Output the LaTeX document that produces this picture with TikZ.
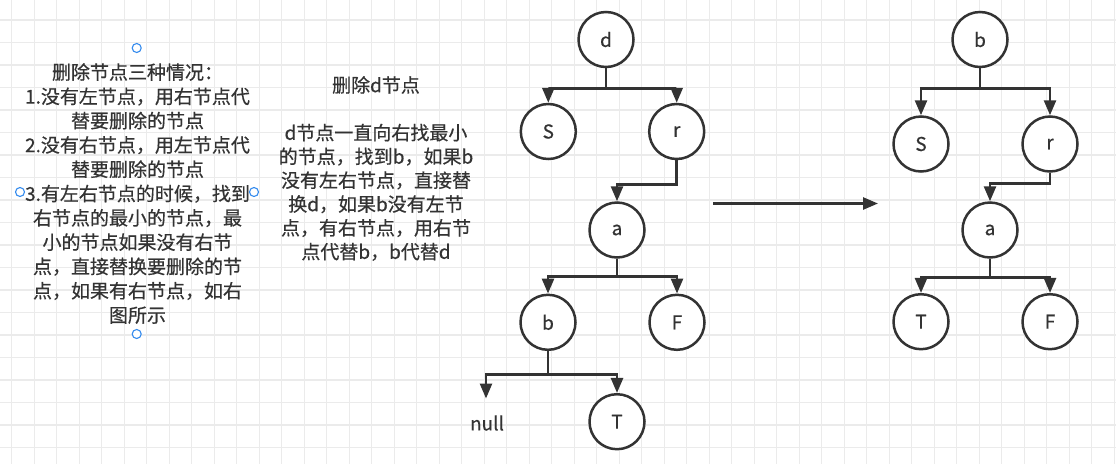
\documentclass[tikz,border=0pt]{standalone}
\usepackage{fontspec}
\setmainfont[FakeBold=0.5]{Noto Sans CJK SC}
\usetikzlibrary{arrows.meta}
\definecolor{ink}{HTML}{333333}
\definecolor{gridc}{HTML}{EBEBEB}
\definecolor{handle}{RGB}{52,139,238}
\begin{document}
\begin{tikzpicture}[x=1pt,y=-1pt,
  tnode/.style={circle,draw=ink,line width=2.5pt,fill=white,minimum size=55pt,inner sep=0pt,text=ink,font=\fontsize{19}{22}\selectfont},
  conn/.style={draw=ink,line width=2.6pt,-{Triangle[length=15pt,width=12pt]}},
  gridline/.style={draw=gridc,line width=1.3pt},
  hdl/.style={circle,draw=handle,line width=1.1pt,fill=white,minimum size=9pt,inner sep=0pt},
  txt/.style={text=ink,align=center,inner sep=0pt}]
\useasboundingbox (0,0) rectangle (1116,464);
\fill[white] (0,0) rectangle (1116,464);
\foreach \i in {0,...,49} \draw[gridline] ({11.7+22.5*\i},0) -- ({11.7+22.5*\i},464);
\foreach \j in {0,...,20} \draw[gridline] (0,{20+22.5*\j}) -- (1116,{20+22.5*\j});

% left text
\node[txt,font=\fontsize{19}{24.3}\selectfont] (lefttext) at (137.5,193.5) {删除节点三种情况：\\1.没有左节点，用右节点代\\替要删除的节点\\2.没有右节点，用左节点代\\替要删除的节点\\3.有左右节点的时候，找到\\右节点的最小的节点，最\\小的节点如果没有右节\\点，直接替换要删除的节\\点，如果有右节点，如右\\图所示};
\node[hdl] (h1) at (136.7,48) {};
\node[hdl] (h2) at (136.7,334) {};
\node[hdl] (h3) at (20,192) {};
\node[hdl] (h4) at (254,192) {};

% middle text
\node[txt,font=\fontsize{19}{23.8}\selectfont] (midtext) at (376,168.5) {删除d节点\\~\\d节点一直向右找最小\\的节点，找到b，如果b\\没有左右节点，直接替\\换d，如果b没有左节\\点，有右节点，用右节\\点代替b，b代替d};

% left tree
\node[tnode] (d) at (606,39.5) {d};
\node[tnode] (S) at (548.3,131.5) {S};
\node[tnode] (r) at (676.7,131.5) {r};
\node[tnode] (a) at (617,230) {a};
\node[tnode] (b) at (548,322.3) {b};
\node[tnode] (F) at (677,322.3) {F};
\node[tnode] (T) at (617,421.7) {T};
\node[txt,font=\fontsize{19}{22}\selectfont] (null) at (487,423) {null};
\coordinate (nulltip) at (486,398.5);

\draw[conn] (d.south) -- ++(0,20.5) -| (S.north);
\draw[conn] (d.south) -- ++(0,20.5) -| (r.north);
\draw[conn] (r.south) -- ++(0,24) -| (a.north);
\draw[conn] (a.south) -- ++(0,18) -| (b.north);
\draw[conn] (a.south) -- ++(0,18) -| (F.north);
\draw[conn] (b.south) -- ++(0,23.5) -| (nulltip);
\draw[conn] (b.south) -- ++(0,23.5) -| (T.north);

% big arrow
\coordinate (arrA) at (713,203.5);
\coordinate (arrB) at (878,203.5);
\draw[conn] (arrA) -- (arrB);

% right tree
\node[tnode] (b2) at (980,39.5) {b};
\node[tnode] (S2) at (921,144) {S};
\node[tnode] (r2) at (1050,144) {r};
\node[tnode] (a2) at (990,230) {a};
\node[tnode] (T2) at (921,321.7) {T};
\node[tnode] (F2) at (1050,321.7) {F};

\draw[conn] (b2.south) -- ++(0,20.5) -| (S2.north);
\draw[conn] (b2.south) -- ++(0,20.5) -| (r2.north);
\draw[conn] (r2.south) -- ++(0,11) -| (a2.north);
\draw[conn] (a2.south) -- ++(0,19) -| (T2.north);
\draw[conn] (a2.south) -- ++(0,19) -| (F2.north);
\end{tikzpicture}
\end{document}
